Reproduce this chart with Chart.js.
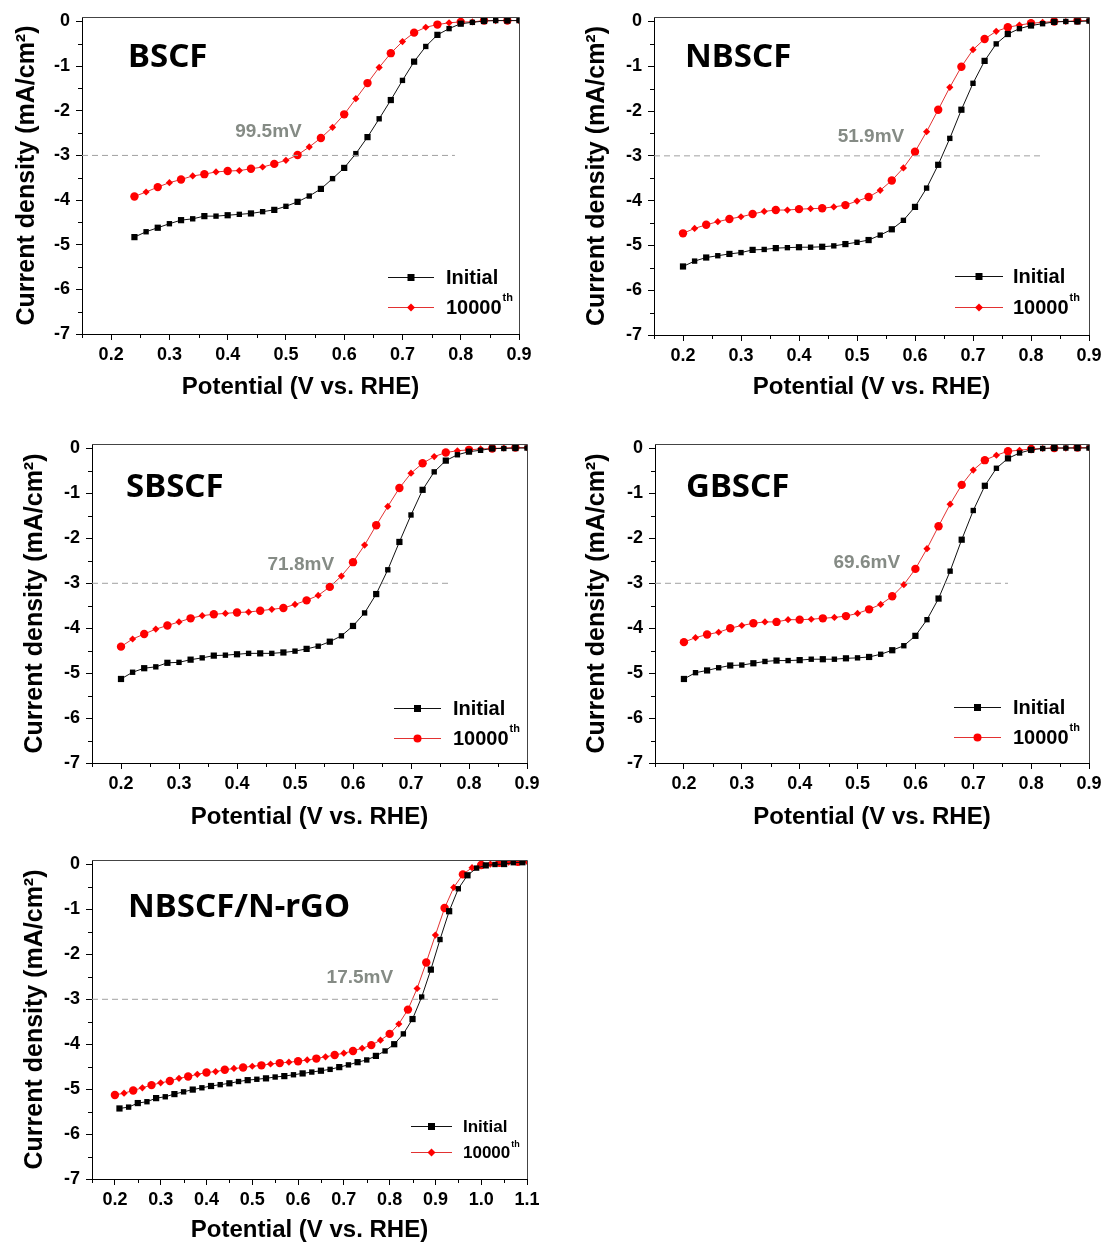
<!DOCTYPE html>
<html>
<head>
<meta charset="utf-8">
<script src="https://cdn.jsdelivr.net/npm/chart.js@4.4.1/dist/chart.umd.min.js"></script>
<style>
  body { margin: 0; background: #fff; }
  #page { position: relative; width: 1108px; height: 1245px; }
  canvas { position: absolute; }
</style>
</head>
<body>
<div id="page">
  <canvas id="c1" width="550" height="415" style="left:0px;top:0px"></canvas>
  <canvas id="c2" width="548" height="415" style="left:560px;top:0px"></canvas>
  <canvas id="c3" width="550" height="415" style="left:0px;top:425px"></canvas>
  <canvas id="c4" width="548" height="415" style="left:560px;top:425px"></canvas>
  <canvas id="c5" width="550" height="405" style="left:0px;top:840px"></canvas>
</div>
<script>
// potentials (V vs RHE)
const potBscf = [0.24,0.26,0.28,0.30,0.32,0.34,0.36,0.38,0.40,0.42,0.44,0.46,0.48,0.50,0.52,0.54,0.56,0.58,0.60,0.62,0.64,0.66,0.68,0.70,0.72,0.74,0.76,0.78,0.80,0.82,0.84,0.86,0.88,0.90];
const potStd = [0.20,0.22,0.24,0.26,0.28,0.30,0.32,0.34,0.36,0.38,0.40,0.42,0.44,0.46,0.48,0.50,0.52,0.54,0.56,0.58,0.60,0.62,0.64,0.66,0.68,0.70,0.72,0.74,0.76,0.78,0.80,0.82,0.84,0.86,0.88,0.90];
const potRgoInitial = [0.21,0.23,0.25,0.27,0.29,0.31,0.33,0.35,0.37,0.39,0.41,0.43,0.45,0.47,0.49,0.51,0.53,0.55,0.57,0.59,0.61,0.63,0.65,0.67,0.69,0.71,0.73,0.75,0.77,0.79,0.81,0.83,0.85,0.87,0.89,0.91,0.93,0.95,0.97,0.99,1.01,1.03,1.05,1.07,1.09];
const potRgoCycled = [0.20,0.22,0.24,0.26,0.28,0.30,0.32,0.34,0.36,0.38,0.40,0.42,0.44,0.46,0.48,0.50,0.52,0.54,0.56,0.58,0.60,0.62,0.64,0.66,0.68,0.70,0.72,0.74,0.76,0.78,0.80,0.82,0.84,0.86,0.88,0.90,0.92,0.94,0.96,0.98,1.00,1.02,1.04,1.06,1.08,1.10];

// current density (mA/cm2)
const bscfInitial = [-4.83,-4.71,-4.62,-4.53,-4.45,-4.42,-4.36,-4.36,-4.34,-4.32,-4.30,-4.26,-4.22,-4.14,-4.04,-3.91,-3.75,-3.52,-3.28,-2.96,-2.59,-2.18,-1.76,-1.32,-0.90,-0.56,-0.30,-0.16,-0.05,-0.02,0.01,0.02,0.02,0.02];
const bscfCycled = [-3.92,-3.82,-3.71,-3.61,-3.54,-3.46,-3.42,-3.37,-3.35,-3.34,-3.30,-3.26,-3.19,-3.11,-2.99,-2.81,-2.61,-2.37,-2.08,-1.73,-1.38,-1.03,-0.71,-0.45,-0.25,-0.13,-0.07,-0.03,-0.01,-0.01,0.02,0.02,0.02,0.02];
const nbscfInitial = [-5.47,-5.35,-5.27,-5.23,-5.19,-5.16,-5.10,-5.09,-5.06,-5.05,-5.04,-5.04,-5.03,-5.01,-4.97,-4.93,-4.88,-4.77,-4.64,-4.44,-4.14,-3.72,-3.20,-2.61,-1.97,-1.38,-0.88,-0.50,-0.28,-0.16,-0.09,-0.05,-0.01,0.00,0.00,0.01];
const nbscfCycled = [-4.73,-4.62,-4.54,-4.47,-4.41,-4.36,-4.30,-4.24,-4.21,-4.21,-4.19,-4.18,-4.17,-4.14,-4.10,-4.01,-3.92,-3.77,-3.55,-3.27,-2.91,-2.46,-1.97,-1.47,-1.01,-0.63,-0.39,-0.22,-0.13,-0.08,-0.04,-0.02,0.00,0.00,0.02,0.02];
const sbscfInitial = [-5.13,-4.98,-4.89,-4.86,-4.77,-4.76,-4.70,-4.66,-4.61,-4.60,-4.58,-4.56,-4.56,-4.56,-4.54,-4.51,-4.46,-4.40,-4.30,-4.17,-3.95,-3.66,-3.24,-2.70,-2.08,-1.48,-0.92,-0.52,-0.27,-0.14,-0.07,-0.04,0.00,0.00,0.01,0.01];
const sbscfCycled = [-4.41,-4.24,-4.13,-4.02,-3.94,-3.86,-3.78,-3.72,-3.69,-3.67,-3.65,-3.64,-3.61,-3.58,-3.55,-3.47,-3.38,-3.27,-3.08,-2.84,-2.53,-2.15,-1.71,-1.29,-0.88,-0.55,-0.33,-0.18,-0.09,-0.05,-0.03,-0.01,0.00,0.01,0.02,0.02];
const gbscfInitial = [-5.13,-4.99,-4.94,-4.88,-4.83,-4.82,-4.78,-4.74,-4.72,-4.72,-4.71,-4.69,-4.69,-4.69,-4.67,-4.66,-4.64,-4.58,-4.49,-4.39,-4.17,-3.81,-3.34,-2.73,-2.03,-1.38,-0.83,-0.44,-0.22,-0.10,-0.03,0.00,0.01,0.01,0.01,0.01];
const gbscfCycled = [-4.31,-4.21,-4.14,-4.09,-4.00,-3.94,-3.89,-3.86,-3.86,-3.81,-3.81,-3.80,-3.78,-3.76,-3.73,-3.67,-3.58,-3.47,-3.29,-3.03,-2.68,-2.23,-1.73,-1.24,-0.81,-0.48,-0.26,-0.15,-0.06,-0.04,-0.01,0.00,0.01,0.01,0.02,0.02];
const rgoInitial = [-5.43,-5.40,-5.31,-5.28,-5.20,-5.17,-5.11,-5.06,-5.01,-4.97,-4.93,-4.90,-4.87,-4.83,-4.80,-4.78,-4.76,-4.73,-4.71,-4.68,-4.65,-4.62,-4.59,-4.56,-4.51,-4.46,-4.40,-4.35,-4.26,-4.15,-4.00,-3.77,-3.44,-2.95,-2.34,-1.67,-1.04,-0.54,-0.24,-0.08,-0.02,0.00,0.01,0.04,0.05];
const rgoCycled = [-5.13,-5.09,-5.03,-4.97,-4.91,-4.86,-4.82,-4.76,-4.72,-4.67,-4.63,-4.61,-4.57,-4.54,-4.52,-4.49,-4.47,-4.44,-4.42,-4.40,-4.38,-4.35,-4.32,-4.28,-4.24,-4.20,-4.15,-4.09,-4.02,-3.91,-3.77,-3.55,-3.23,-2.76,-2.18,-1.57,-0.97,-0.51,-0.22,-0.07,-0.01,0.01,0.04,0.05,0.06,0.07];

// axes
const xTicks = [0.2,0.3,0.4,0.5,0.6,0.7,0.8,0.9];
const xMinor = [0.15,0.25,0.35,0.45,0.55,0.65,0.75,0.85];
const xTicksRgo = [0.2,0.3,0.4,0.5,0.6,0.7,0.8,0.9,1.0,1.1];
const xMinorRgo = [0.15,0.25,0.35,0.45,0.55,0.65,0.75,0.85,0.95,1.05];
const yTicks = [0,-1,-2,-3,-4,-5,-6,-7];
const yMinor = [-0.5,-1.5,-2.5,-3.5,-4.5,-5.5,-6.5];

const panelNames = ['BSCF', 'NBSCF', 'SBSCF', 'GBSCF', 'NBSCF/N-rGO'];
const shiftLabels = ['99.5mV', '51.9mV', '71.8mV', '69.6mV', '17.5mV'];
const shiftAt = [[0.47, -2.48], [0.524, -2.58], [0.51, -2.58], [0.516, -2.54], [0.735, -2.51]];
const refLevel = -3;
const refEnd = [0.79, 0.82, 0.77, 0.76, 1.04];

const black = '#000';
const red = '#ff0000';
const grayTxt = '#858b85';

function pts(xs, ys) { return xs.map((x, i) => ({x: x, y: ys[i]})); }

function marker(ctx, style, x, y, r) {
  ctx.beginPath();
  if (style === 'rect') ctx.rect(x - r, y - r, 2 * r, 2 * r);
  else if (style === 'circle') ctx.arc(x, y, r, 0, Math.PI * 2);
  else { ctx.moveTo(x, y - r); ctx.lineTo(x + r, y); ctx.lineTo(x, y + r); ctx.lineTo(x - r, y); ctx.closePath(); }
  ctx.fill();
}

const decor = {
  id: 'decor',
  afterDraw(chart) {
    const o = chart.options.plugins.decor;
    const {ctx, chartArea: a, scales: {x, y}} = chart;
    ctx.save();
    // frame top/right
    ctx.strokeStyle = '#444';
    ctx.lineWidth = 1;
    ctx.beginPath();
    ctx.moveTo(a.left, a.top + 0.5); ctx.lineTo(a.right + 0.5, a.top + 0.5); ctx.lineTo(a.right + 0.5, a.bottom);
    ctx.stroke();
    // minor ticks
    ctx.strokeStyle = '#000';
    ctx.beginPath();
    o.xMinor.forEach(v => { const p = Math.round(x.getPixelForValue(v)) + 0.5; ctx.moveTo(p, a.bottom); ctx.lineTo(p, a.bottom + 4); });
    yMinor.forEach(v => { const p = Math.round(y.getPixelForValue(v)) + 0.5; ctx.moveTo(a.left - 4, p); ctx.lineTo(a.left, p); });
    ctx.stroke();
    // panel name
    ctx.fillStyle = '#000';
    ctx.font = 'bold 33px "Noto Sans", "Liberation Sans", sans-serif';
    ctx.textBaseline = 'middle';
    ctx.textAlign = 'left';
    ctx.fillText(o.name, o.nameAt[0], o.nameAt[1]);
    // onset shift label
    ctx.fillStyle = grayTxt;
    ctx.font = 'bold 19px "Liberation Sans", Arial, sans-serif';
    ctx.textAlign = 'center';
    ctx.fillText(o.shift, x.getPixelForValue(o.shiftAt[0]), y.getPixelForValue(o.shiftAt[1]));
    // legend
    const L = o.legend;
    const ds = chart.data.datasets;
    [1, 2].forEach((k, i) => {
      const yy = L.y + i * L.gap;
      ctx.strokeStyle = ds[k].borderColor;
      ctx.lineWidth = 1;
      ctx.beginPath();
      ctx.moveTo(L.x, yy + 0.5); ctx.lineTo(L.x + L.len, yy + 0.5);
      ctx.stroke();
      ctx.fillStyle = ds[k].backgroundColor;
      marker(ctx, L.marks[i], L.x + L.len / 2, yy + 0.5, L.marks[i] === 'rect' ? 3.5 : 4);
      ctx.fillStyle = '#000';
      ctx.textAlign = 'left';
      ctx.font = 'bold ' + L.size + 'px "Liberation Sans", Arial, sans-serif';
      const tx = L.x + L.len + L.pad;
      if (i === 0) {
        ctx.fillText('Initial', tx, yy + 1);
      } else {
        ctx.fillText('10000', tx, yy + 1);
        const w = ctx.measureText('10000').width;
        ctx.font = 'bold ' + Math.round(L.size * 0.55) + 'px "Liberation Sans", Arial, sans-serif';
        ctx.fillText('th', tx + w + 1, yy - L.size * 0.45);
      }
    });
    ctx.restore();
  }
};

function makePanel(p) {
  const tickFont = {family: '"Liberation Sans", Arial, sans-serif', size: 18, weight: 'bold'};
  new Chart(document.getElementById(p.id), {
    type: 'line',
    data: {
      datasets: [
        {data: [{x: 0.15, y: refLevel}, {x: p.refEnd, y: refLevel}], borderColor: '#a0a0a0', borderWidth: 1,
         borderDash: [6, 4], pointRadius: 0},
        {label: 'Initial', data: pts(p.xInit, p.init), borderColor: '#111', backgroundColor: black,
         borderWidth: 1, pointStyle: 'rect', pointBorderWidth: 0,
         pointRadius: c => c.dataIndex % 2 ? 3.8 : 4.4},
        {label: '10000th', data: pts(p.xCyc, p.cyc), borderColor: '#e23232', backgroundColor: red,
         borderWidth: 1, pointBorderWidth: 0,
         pointStyle: c => c.dataIndex % 2 ? 'rectRot' : 'circle',
         pointRadius: c => c.dataIndex % 2 ? 3.6 : 4.2}
      ]
    },
    options: {
      responsive: false,
      animation: false,
      layout: {padding: {top: p.top, right: p.right, left: 0, bottom: 0}},
      plugins: {
        legend: {display: false},
        tooltip: {enabled: false},
        decor: {name: p.name, nameAt: p.nameAt, shift: p.shift, shiftAt: p.shiftAt, xMinor: p.xMinor, legend: p.legend}
      },
      scales: {
        x: {
          type: 'linear', min: 0.15, max: p.xMax,
          afterBuildTicks: s => { s.ticks = p.xTicks.map(v => ({value: v})); },
          afterFit: s => { s.height = p.xh; },
          grid: {drawOnChartArea: false, drawTicks: true, tickLength: 6, color: '#000'},
          border: {color: '#000', width: 1},
          ticks: {color: '#000', font: tickFont, padding: 4, maxRotation: 0, autoSkip: false,
                  callback: v => v.toFixed(1)},
          title: {display: true, text: 'Potential (V vs. RHE)', color: '#000',
                  font: {family: '"Liberation Sans", Arial, sans-serif', size: 24, weight: 'bold', lineHeight: 1.2},
                  padding: {top: 0, bottom: p.xTitlePad}}
        },
        y: {
          type: 'linear', min: -7, max: 0.1,
          afterBuildTicks: s => { s.ticks = yTicks.map(v => ({value: v})); },
          afterFit: s => { s.width = p.yw; },
          grid: {drawOnChartArea: false, drawTicks: true, tickLength: 6, color: '#000'},
          border: {color: '#000', width: 1},
          ticks: {color: '#000', font: tickFont, padding: 6, autoSkip: false, callback: v => String(v)},
          title: {display: true, text: 'Current density (mA/cm²)', color: '#000',
                  font: {family: '"Liberation Sans", Arial, sans-serif', size: 25, weight: 'bold', lineHeight: 1.2},
                  padding: {top: p.yTitlePad, bottom: 0}}
        }
      }
    },
    plugins: [decor]
  });
}

const panels = [
  {id: 'c1', xInit: potBscf, init: bscfInitial, xCyc: potBscf, cyc: bscfCycled, xMax: 0.9, xTicks: xTicks, xMinor: xMinor,
   top: 17, right: 31, yw: 82, xh: 81, yTitlePad: 12, xTitlePad: 13, nameAt: [128, 58],
   legend: {x: 388, y: 277, gap: 30, len: 46, pad: 12, size: 20, marks: ['rect', 'diamond']}},
  {id: 'c2', xInit: potStd, init: nbscfInitial, xCyc: potStd, cyc: nbscfCycled, xMax: 0.9, xTicks: xTicks, xMinor: xMinor,
   top: 17, right: 19, yw: 94, xh: 80, yTitlePad: 22, xTitlePad: 13, nameAt: [125, 58],
   legend: {x: 395, y: 276, gap: 31, len: 48, pad: 10, size: 20, marks: ['rect', 'diamond']}},
  {id: 'c3', xInit: potStd, init: sbscfInitial, xCyc: potStd, cyc: sbscfCycled, xMax: 0.9, xTicks: xTicks, xMinor: xMinor,
   top: 19, right: 23, yw: 92, xh: 77, yTitlePad: 20, xTitlePad: 8, nameAt: [126, 63],
   legend: {x: 394, y: 283, gap: 30, len: 47, pad: 12, size: 20, marks: ['rect', 'circle']}},
  {id: 'c4', xInit: potStd, init: gbscfInitial, xCyc: potStd, cyc: gbscfCycled, xMax: 0.9, xTicks: xTicks, xMinor: xMinor,
   top: 19, right: 19, yw: 95, xh: 77, yTitlePad: 22, xTitlePad: 8, nameAt: [126, 63],
   legend: {x: 394, y: 282, gap: 30, len: 47, pad: 12, size: 20, marks: ['rect', 'circle']}},
  {id: 'c5', xInit: potRgoInitial, init: rgoInitial, xCyc: potRgoCycled, cyc: rgoCycled, xMax: 1.1, xTicks: xTicksRgo, xMinor: xMinorRgo,
   top: 20, right: 23, yw: 92, xh: 66, yTitlePad: 20, xTitlePad: 0, nameAt: [128, 68],
   legend: {x: 411, y: 286, gap: 26, len: 41, pad: 11, size: 17, marks: ['rect', 'diamond']}}
];

panels.forEach((p, i) => {
  p.name = panelNames[i];
  p.shift = shiftLabels[i];
  p.shiftAt = shiftAt[i];
  p.refEnd = refEnd[i];
  makePanel(p);
});
</script>
</body>
</html>
